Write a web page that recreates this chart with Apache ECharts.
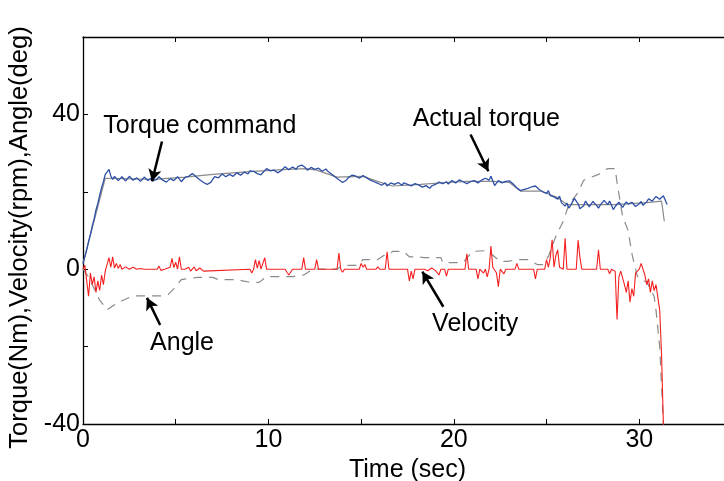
<!DOCTYPE html>
<html>
<head>
<meta charset="utf-8">
<script src="https://cdn.jsdelivr.net/npm/echarts@6/dist/echarts.min.js"></script>
<style>
  html, body { margin: 0; padding: 0; background: #fff; }
  #chart { width: 724px; height: 481px; }
</style>
</head>
<body>
<div id="chart"></div>
<script>
const xLabels = [0, 10, 20, 30];
const yLabels = [-40, 0, 40];

// torque command (sec, Nm)
const torqueCommand = [
  [0, 1.5], [1.2, 23.5], [3.8, 23.2], [5.5, 23.8], [7, 24.5], [9, 25.2], [11, 25.8],
  [12, 26], [12.6, 25.6], [13.7, 23.8], [15.1, 24], [16, 22.5], [16.7, 21.5],
  [18.2, 21.9], [19.6, 22.4], [20.7, 22.7], [22.1, 22.7], [23, 22.4], [23.6, 20.2],
  [24.7, 20.2], [25.6, 18.5], [26.1, 16.7], [28.6, 16.7], [30.4, 17.2], [31.2, 17.6],
  [31.35, 12.4]
];

// actual torque, sampled every 0.1 s
const torqueStep = 0.1;
const actualTorque = [
  1.5, 3.2, 5, 7.1, 9, 11.2, 13, 15.3, 17, 19.1, 21, 22.6, 24.5, 25.1, 25.8, 24.1,
  23.2, 24.0, 23.8, 22.9, 22.9, 23.9, 23.6, 22.8, 23.1, 24.0, 23.9, 23.0, 22.8, 23.6,
  23.4, 22.7, 23.0, 23.8, 23.5, 22.9, 23.2, 23.6, 22.9, 22.6, 23.3, 23.9, 23.8, 23.0,
  23.1, 22.5, 22.6, 23.4, 23.9, 22.9, 22.7, 23.9, 23.6, 22.6, 22.8, 23.7, 23.4, 24.0,
  24.2, 24.7, 24.6, 23.9, 23.5, 23.1, 23.0, 22.4, 22.2, 21.9, 21.6, 22.5, 23.2, 23.9,
  23.8, 23.6, 24.1, 24.6, 24.4, 23.9, 24.0, 24.5, 24.6, 24.0, 24.2, 24.9, 24.8, 24.3,
  24.5, 25.1, 25.0, 24.6, 25.4, 25.8, 25.3, 24.8, 24.7, 24.2, 24.4, 25.0, 25.5, 26.0,
  25.9, 25.4, 25.1, 25.6, 25.4, 24.9, 25.0, 25.5, 25.8, 26.5, 26.3, 25.7, 25.9, 26.4,
  26.1, 25.8, 26.6, 27.0, 26.9, 26.4, 26.2, 25.6, 25.8, 26.3, 26.4, 25.8, 25.6, 26.1,
  25.9, 25.3, 25.4, 25.9, 25.3, 24.9, 24.6, 24.1, 23.8, 23.5, 23.1, 22.6, 22.4, 22.9,
  23.0, 23.6, 23.9, 24.3, 24.5, 24.1, 24.0, 23.5, 23.6, 24.2, 24.0, 23.6, 23.3, 23.0,
  23.0, 22.6, 22.5, 22.2, 22.1, 21.7, 21.8, 22.3, 21.5, 22.0, 22.3, 22.6, 21.9, 21.6,
  22.4, 22.0, 21.7, 22.3, 22.6, 21.9, 22.0, 21.5, 21.6, 22.1, 22.2, 21.8, 21.7, 21.2,
  21.4, 21.6, 21.1, 20.9, 21.5, 21.3, 21.9, 22.3, 22.5, 22.0, 22.1, 22.6, 22.6, 22.0,
  22.3, 22.9, 22.8, 22.3, 22.5, 23.1, 23.0, 22.6, 22.7, 22.1, 22.2, 22.6, 22.4, 22.9,
  22.8, 22.3, 22.4, 23.0, 23.1, 23.5, 23.6, 23.0, 24.0, 24.3, 21.6, 22.1, 22.9, 23.2,
  22.3, 22.8, 22.7, 22.4, 22.8, 23.0, 22.0, 21.6, 21.0, 20.6, 20.3, 20.0, 20.6, 21.0,
  20.9, 21.4, 21.3, 21.7, 21.5, 21.0, 20.6, 20.9, 20.0, 19.8, 19.6, 20.3, 19.0, 19.5,
  18.7, 18.2, 18.1, 18.9, 17.2, 16.8, 16.3, 17.1, 15.8, 16.5, 17.0, 18.3, 18.0, 16.9,
  15.6, 16.0, 16.4, 17.6, 17.2, 16.1, 16.6, 17.5, 18.0, 16.5, 15.8, 16.6, 16.9, 17.8,
  17.5, 16.7, 17.6, 18.1, 15.4, 16.2, 16.5, 17.3, 17.2, 16.0, 16.1, 17.4, 16.8, 16.3,
  17.3, 17.8, 16.2, 16.6, 16.9, 17.5, 16.5, 17.0, 17.4, 18.2, 18.4, 17.6, 17.9, 18.8,
  18.6, 18.1, 18.2, 19.0, 18.5, 16.7
];

// velocity (sec, rpm)
const velocity = [
  [0, 0], [0.1, 1], [0.2, -3], [0.3, -7], [0.4, -1], [0.5, -4], [0.6, -2], [0.7, -6],
  [0.8, -3], [0.9, -5.5], [1.0, -1.5], [1.1, -4], [1.2, -0.5], [1.3, 0], [1.4, 3],
  [1.5, 0.5], [1.6, 3.2], [1.7, 0.3], [1.8, 1.5], [1.9, 0.2], [2.0, 1.2], [2.1, 0],
  [2.3, 0.6], [2.5, 0], [2.7, 0.5], [2.9, 0], [3.1, 0.2], [3.3, 0], [4.0, 0], [4.1, 0.8],
  [4.2, -0.3], [4.4, 0], [4.7, 0.5], [4.8, 2.8], [4.9, 0.4], [5.0, 1.8], [5.1, 0],
  [5.2, 3.2], [5.3, 0], [5.5, 0], [5.7, 0.5], [5.8, -0.5], [6.0, 0.6], [6.1, -0.4],
  [6.3, 0.3], [6.5, -0.5], [6.6, 0], [9.0, 0], [9.1, -1], [9.2, 0], [9.3, 2.5],
  [9.4, 0.3], [9.5, 2.2], [9.6, 0], [9.8, 3], [9.9, 0], [10.9, 0], [11.0, -0.8],
  [11.1, -1.5], [11.3, 0], [11.8, 0], [11.9, 3], [12.0, 0], [12.5, 0], [12.6, 2.5],
  [12.7, 0], [13.7, 0], [13.8, 4.2], [13.9, 0], [14.0, -0.8], [14.1, 0], [14.9, 0],
  [15.0, 1.5], [15.1, 0.5], [15.2, 1.2], [15.3, 0], [15.8, 0], [15.9, 0.6], [16.0, 0],
  [16.3, 0], [16.4, 4.5], [16.5, 0], [17.5, 0], [17.6, -3], [17.7, -0.5], [17.8, -2.5],
  [17.9, 0], [18.4, 0], [18.5, 0.5], [18.6, -0.4], [18.8, 0.3], [19.0, -0.3],
  [19.2, -1.5], [19.3, 0], [19.5, 0], [19.6, -1.8], [19.7, 0], [20.6, 0], [20.7, 4],
  [20.8, 0], [21.2, 0], [21.3, -2.5], [21.4, 0], [21.6, -1], [21.7, 0], [21.8, -2],
  [21.9, 0], [22.0, 6], [22.1, 0.5], [22.2, 0], [22.3, -1], [22.4, -4.5], [22.5, 0],
  [22.7, -1.2], [22.8, 0], [23.3, 0], [23.4, 1.5], [23.5, 0], [24.3, 0], [24.4, -2.5],
  [24.5, 0], [24.9, 0], [25.0, 2.5], [25.1, 0.5], [25.2, 3], [25.3, 7.6], [25.4, 0.5],
  [25.5, 3.5], [25.6, 5], [25.7, 0.5], [25.9, 0], [26.0, 8], [26.1, 0], [26.6, 0],
  [26.7, 7.5], [26.8, 3], [26.9, 0], [27.7, 0], [27.8, 5], [27.9, 0], [28.3, 0],
  [28.4, -1.2], [28.5, 0], [28.7, -0.5], [28.8, -13], [28.9, -2], [29.0, -0.5],
  [29.1, -1], [29.2, -4], [29.3, -6], [29.4, -3], [29.5, -8.5], [29.6, -5], [29.7, -7],
  [29.8, -1], [30.0, 0], [30.1, 1.5], [30.2, 0], [30.3, -1.5], [30.4, -4], [30.5, -2.5],
  [30.6, -6], [30.7, -3], [30.8, -5.5], [30.9, -4], [31.0, -4.5], [31.1, -10.5],
  [31.2, -22], [31.3, -40], [31.35, -48]
];

// angle (sec, deg)
const angle = [
  [0, 0], [0.3, -2], [0.9, -8], [1.3, -10.5], [1.6, -9.5], [2.0, -8.4], [2.4, -7.5],
  [2.7, -6.9], [4.2, -6.9], [4.6, -6.5], [4.9, -5], [5.3, -2.7], [6.2, -2.1], [7.0, -2.1],
  [7.3, -2.7], [8.3, -2.7], [9.0, -3.4], [9.5, -3.4], [9.9, -1.9], [11.3, -1.9],
  [11.9, -1.5], [12.4, 0], [13.7, 0], [14.0, 1], [14.8, 1], [15.1, 2.5], [15.9, 2.5],
  [16.2, 3.5], [16.5, 3.8], [16.7, 4.6], [17.3, 4.6], [17.6, 3.2], [18.0, 3.2],
  [18.4, 3], [19.3, 3], [19.4, 1.7], [20.5, 1.7], [21.0, 4.6], [21.8, 4.8], [22.5, 2],
  [22.9, 2], [23.4, 2.5], [24.0, 2.5], [24.5, 1.2], [24.8, 1.2], [25.1, 3.3],
  [25.5, 8.5], [25.9, 12.4], [26.2, 16.7], [26.7, 19.8], [27.0, 23], [27.8, 24.5],
  [28.3, 26], [28.7, 26], [28.8, 22.4], [29.1, 13.6], [29.4, 10], [29.6, 4],
  [29.9, -1.9], [30.2, -3], [30.4, -3.2], [30.6, -5.3], [30.8, -7], [30.9, -10.5],
  [31.1, -20], [31.3, -40], [31.35, -48]
];

// annotations: label, text position, arrow tail, arrow head (data units)
const noteLabels = ['Torque command', 'Actual torque', 'Angle', 'Velocity'];
const noteText = [[6.3, 36.9], [21.75, 38.7], [5.34, -19.0], [21.15, -14.1]];
const noteTail = [[4.26, 33.0], [20.9, 34.8], [4.16, -14.4], [19.43, -9.7]];
const noteHead = [[3.72, 22.7], [21.86, 25.3], [3.45, -7.4], [18.3, -0.6]];

const font = "'Liberation Sans', Arial, sans-serif";
const chart = echarts.init(document.getElementById('chart'));

const axisLine = { show: true, onZero: false, lineStyle: { color: '#000', width: 1.3 } };
const axisTick = { show: true, inside: true, length: 5, lineStyle: { color: '#000', width: 1 } };

chart.setOption({
  animation: false,
  backgroundColor: '#fff',
  grid: { left: 83, right: -8, top: 37, bottom: 57, outerBoundsMode: 'none', containLabel: false },
  xAxis: [
    {
      type: 'value', min: 0, max: 35, interval: 5,
      name: 'Time (sec)', nameLocation: 'middle', nameGap: 29,
      nameTextStyle: { fontFamily: font, fontSize: 25, color: '#000' },
      axisLine: axisLine, axisTick: axisTick, splitLine: { show: false },
      axisLabel: {
        fontFamily: font, fontSize: 25, color: '#000', margin: 4,
        formatter: v => (xLabels.includes(v) ? String(v) : '')
      }
    },
    {
      type: 'value', min: 0, max: 35, interval: 5, position: 'top',
      axisLine: axisLine, axisTick: axisTick, splitLine: { show: false },
      axisLabel: { show: false }
    }
  ],
  yAxis: {
    type: 'value', min: -40, max: 60, interval: 20,
    name: 'Torque(Nm),Velocity(rpm),Angle(deg)', nameLocation: 'middle', nameGap: 40,
    nameTextStyle: { fontFamily: font, fontSize: 25.5, color: '#000', padding: [0, 14, 0, 0] },
    axisLine: axisLine, axisTick: axisTick, splitLine: { show: false },
    axisLabel: {
      fontFamily: font, fontSize: 25, color: '#000', margin: 3,
      formatter: v => (yLabels.includes(v) ? String(v) : '')
    }
  },
  series: [
    {
      name: 'Angle', type: 'line', showSymbol: false, data: angle,
      lineStyle: { color: '#8a8a8a', width: 1.2, type: [9, 7] }
    },
    {
      name: 'Torque command', type: 'line', showSymbol: false, data: torqueCommand,
      lineStyle: { color: '#8a8a8a', width: 1.2 }
    },
    {
      name: 'Actual torque', type: 'line', showSymbol: false,
      data: actualTorque.map((v, i) => [i * torqueStep, v]),
      lineStyle: { color: '#2e4fa6', width: 1.3 }
    },
    {
      name: 'Velocity', type: 'line', showSymbol: false, data: velocity,
      lineStyle: { color: '#f42020', width: 1.1 }
    },
    {
      name: 'notes', type: 'line', data: [], silent: true,
      markLine: {
        silent: true, symbol: ['none', 'arrow'], symbolSize: [10, 12],
        label: { show: false },
        lineStyle: { color: '#000', width: 2.5, type: 'solid' },
        data: noteTail.map((t, i) => [{ coord: t }, { coord: noteHead[i] }])
      },
      markPoint: {
        silent: true, symbol: 'circle', symbolSize: 0,
        label: {
          show: true, position: 'inside', fontFamily: font, fontSize: 25, color: '#000',
          formatter: p => p.name
        },
        data: noteLabels.map((n, i) => ({ name: n, coord: noteText[i] }))
      }
    }
  ]
});

window.addEventListener('resize', function () {
  chart.resize();
});
</script>
</body>
</html>
